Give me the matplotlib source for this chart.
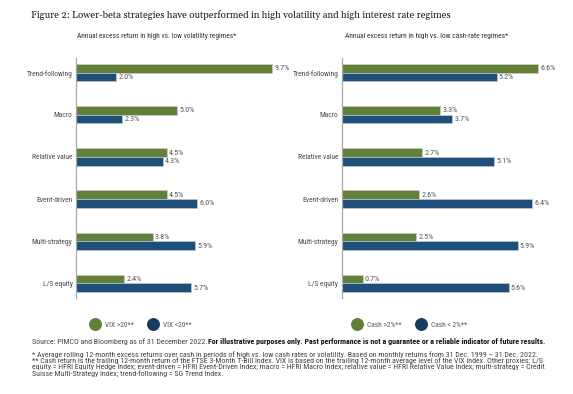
import matplotlib
matplotlib.use("Agg")
import matplotlib.pyplot as plt
from matplotlib import font_manager
from matplotlib.lines import Line2D
import numpy as np

# pick a narrow sans like the original, fall back if missing
avail = {f.name for f in font_manager.fontManager.ttflist}
sans = next((f for f in ["Roboto Condensed", "Archivo Narrow", "Asap Condensed",
                         "Liberation Sans Narrow", "Roboto"] if f in avail), "DejaVu Sans")
serif = next((f for f in ["Gelasio", "Liberation Serif"] if f in avail), "DejaVu Serif")
plt.rcParams['font.family'] = [sans, 'DejaVu Sans']

# data
strategies = ["Trend-following", "Macro", "Relative value", "Event-driven", "Multi-strategy", "L/S equity"]
vix_high = [9.7, 5.0, 4.5, 4.5, 3.8, 2.4]
vix_low = [2.0, 2.3, 4.3, 6.0, 5.9, 5.7]
cash_high = [6.6, 3.3, 2.7, 2.6, 2.5, 0.7]
cash_low = [5.2, 3.7, 5.1, 6.4, 5.9, 5.6]

title = "Figure 2: Lower-beta strategies have outperformed in high volatility and high interest rate regimes"
left_title = "Annual excess return in high vs. low volatility regimes*"
right_title = "Annual excess return in high vs. low cash-rate regimes*"
left_legend = ["VIX >20**", "VIX <20**"]
right_legend = ["Cash >2%**", "Cash < 2%**"]
source = "Source: PIMCO and Bloomberg as of 31 December 2022."
disclaimer = "For illustrative purposes only. Past performance is not a guarantee or a reliable indicator of future results."
notes = [
    "* Average rolling 12-month excess returns over cash in periods of high vs. low cash rates or volatility. Based on monthly returns from 31 Dec. 1999 \u2013 31 Dec. 2022.",
    "** Cash return is the trailing 12-month return of the FTSE 3-Month T-Bill Index. VIX is based on the trailing 12-month average level of the VIX Index. Other proxies: L/S",
    "equity = HFRI Equity Hedge Index; event-driven = HFRI Event-Driven Index; macro = HFRI Macro Index; relative value = HFRI Relative Value Index; multi-strategy = Credit",
    "Suisse Multi-Strategy Index; trend-following = SG Trend Index.",
]

green = "#62803a"
blue = "#1f4e79"
blue_dark = "#173b63"
label_col = "#4a4a4a"

W, H = 573, 394
fig = plt.figure(figsize=(W / 100, H / 100), dpi=100)
renderer = fig.canvas.get_renderer()


def width_at(s, size, **kw):
    t = fig.text(0, 0, s, fontsize=size, **kw)
    w = t.get_window_extent(renderer=renderer).width
    t.remove()
    return w


def fit_size(s, target, **kw):
    return 10 * target / width_at(s, 10, **kw)


lab_size = fit_size("Trend-following", 42) * 1.1
val_size = fit_size("5.0%", 14.5) * 1.05
leg_size = fit_size("Cash >2%**", 34)


def px_axes(x0, y_top, w, h):
    return fig.add_axes([x0 / W, 1 - (y_top + h) / H, w / W, h / H])


def draw_panel(ax, hi, lo, xmax):
    y = np.arange(len(strategies))
    off = 0.105
    ax.barh(y - off, hi, height=0.2, color=green, edgecolor="#c9d3bd", linewidth=0.5)
    ax.barh(y + off, lo, height=0.2, color=blue, edgecolor="#b9c8d8", linewidth=0.5)
    for yi, v in zip(y, hi):
        ax.text(v + xmax * 0.011, yi - off, f"{v:.1f}%", va="center", ha="left",
                fontsize=val_size, color="#555555")
    for yi, v in zip(y, lo):
        ax.text(v + xmax * 0.011, yi + off, f"{v:.1f}%", va="center", ha="left",
                fontsize=val_size, color="#555555")
    ax.set_xlim(0, xmax)
    ax.set_ylim(len(strategies) - 1 + 0.35, -0.35)
    ax.set_yticks(y)
    ax.set_yticklabels(strategies, fontsize=lab_size, color=label_col)
    ax.tick_params(axis="y", length=0, pad=2.5)
    ax.set_xticks([])
    for s in ["top", "right", "bottom"]:
        ax.spines[s].set_visible(False)
    ax.spines["left"].set_color("#a8a8a8")
    ax.spines["left"].set_linewidth(0.9)


ax1 = px_axes(76, 58, 202, 240)
draw_panel(ax1, vix_high, vix_low, 10)
ax2 = px_axes(341.7, 58, 208.6, 240)
draw_panel(ax2, cash_high, cash_low, 7)

# titles
fig.text(31 / W, 1 - 15 / H, title, fontsize=fit_size(title, 420, family=serif),
         family=serif, color="#1a1a1a", va="center", ha="left")
fig.text(157 / W, 1 - 36 / H, left_title, fontsize=fit_size(left_title, 157),
         color="#333333", ha="center", va="center")
fig.text(427 / W, 1 - 36 / H, right_title, fontsize=fit_size(right_title, 164),
         color="#333333", ha="center", va="center")


def add_legend(labels, xc):
    handles = [Line2D([], [], ls="", marker="o", markersize=8.3, color=green),
               Line2D([], [], ls="", marker="o", markersize=8.3, color=blue_dark)]
    fig.legend(handles, labels, loc="center", bbox_to_anchor=(xc / W, 1 - 325 / H), ncol=2,
               frameon=False, fontsize=leg_size, handlelength=1.3, handletextpad=0.7,
               columnspacing=2.0, labelcolor="#555555")


add_legend(left_legend, 141)
add_legend(right_legend, 410)

# footer
foot_x = 31.7
gap = 1.5
w_src = width_at(source, 10)
w_dis = width_at(disclaimer, 10, fontweight="bold")
src_size = 10 * (545 - foot_x - gap) / (w_src + w_dis)
fig.text(foot_x / W, 1 - 344 / H, source, fontsize=src_size, color="#444444", va="baseline", ha="left")
fig.text((foot_x + gap + w_src * src_size / 10) / W, 1 - 344 / H, disclaimer, fontsize=src_size,
         color="#111111", fontweight="bold", va="baseline", ha="left")

note_size = fit_size(notes[0], 500)
for i, line in enumerate(notes):
    fig.text(foot_x / W, 1 - (354.5 + i * 6.2) / H, line, fontsize=note_size, color="#444444",
             va="center", ha="left")

fig.savefig("out.png", dpi=100)
